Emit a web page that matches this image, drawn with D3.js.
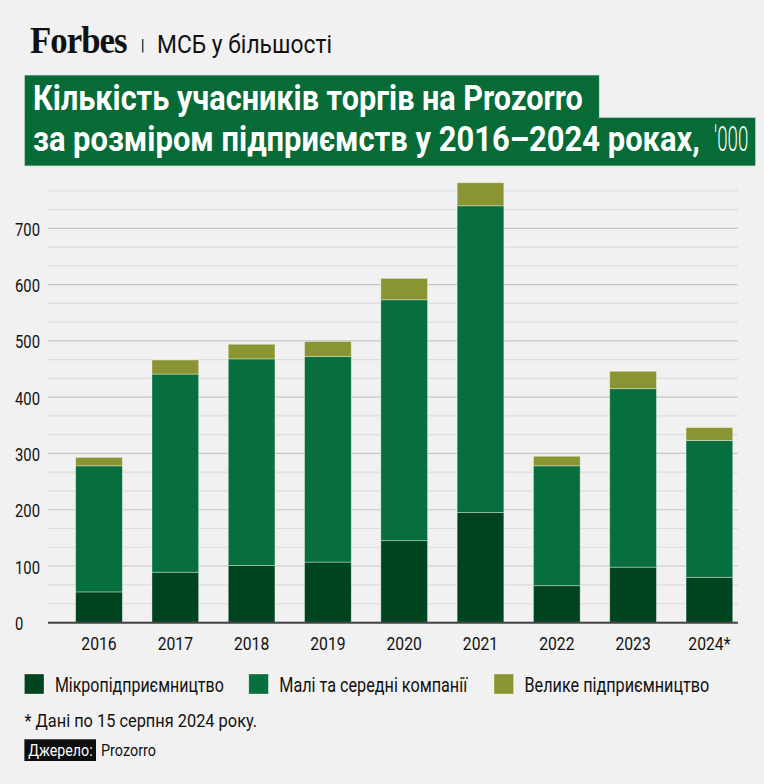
<!DOCTYPE html>
<html>
<head>
<meta charset="utf-8">
<script src="https://cdn.jsdelivr.net/npm/d3@7"></script>
<style>
  html, body { margin: 0; padding: 0; background: #f1f1f1; }
  svg { display: block; }
  text { font-family: Roboto, "Noto Sans", sans-serif; }
</style>
</head>
<body>
<svg id="chart" width="764" height="784"></svg>
<script>
// ---- data ----
const years = ["2016", "2017", "2018", "2019", "2020", "2021", "2022", "2023", "2024*"];
const micro = [54, 89, 101, 107, 145, 195, 65, 98, 80];
const sme   = [224, 352, 367, 365, 428, 545, 213, 317, 243];
const large = [15, 25, 26, 27, 38, 41, 17, 31, 23];
const seriesKeys = ["micro", "sme", "large"];
const seriesNames = ["Мікропідприємництво", "Малі та середні компанії", "Велике підприємництво"];
const yTickValues = [0, 100, 200, 300, 400, 500, 600, 700];
const minorStep = 100 / 3;
const titleLine1 = "Кількість учасників торгів на Prozorro";
const titleLine2 = "за розміром підприємств у 2016–2024 роках,";
const titleUnit = "'000";
const footnote = "* Дані по 15 серпня 2024 року.";
const sourceLabel = "Джерело:";
const sourceText = "Prozorro";

const colors = { micro: "#00431f", sme: "#076e3d", large: "#8b9433" };

const table = years.map((y, i) => ({ year: y, micro: micro[i], sme: sme[i], large: large[i] }));

const svg = d3.select("#chart");
svg.append("rect").attr("width", 764).attr("height", 784).attr("fill", "#f1f1f1");

// text fitted horizontally to a given width (condensed look)
function fitText(parent, str, x, y, w, attrs) {
  const g = parent.append("g").attr("transform", `translate(${x},${y})`);
  const t = g.append("text").text(str);
  Object.entries(attrs || {}).forEach(([k, v]) => {
    if (k === "font-family") t.style("font-family", v); else t.attr(k, v);
  });
  const len = t.node().getComputedTextLength();
  if (len > 0) g.attr("transform", `translate(${x},${y}) scale(${w / len},1)`);
  return t;
}

// ---- header ----
fitText(svg, "Forbes", 30, 53.3, 96.7, {
  "font-family": "'Liberation Serif', 'DejaVu Serif', serif",
  "font-weight": 700, "font-size": 37, "fill": "#111", "letter-spacing": -1
});
svg.append("line").attr("x1", 142.7).attr("x2", 142.7).attr("y1", 39).attr("y2", 52.5)
  .attr("stroke", "#444").attr("stroke-width", 1.5);
fitText(svg, "МСБ у більшості", 157, 53.3, 175, { "font-size": 26.5, "fill": "#111" });

// ---- title boxes ----
const titleGreen = "#066b37";
svg.append("rect").attr("x", 24.3).attr("y", 75).attr("width", 575).attr("height", 43)
  .attr("fill", titleGreen).attr("stroke", "#d6dfd9").attr("stroke-width", 0.8);
svg.append("rect").attr("x", 24.3).attr("y", 117.3).attr("width", 731.4).attr("height", 48.7)
  .attr("fill", titleGreen).attr("stroke", "#d6dfd9").attr("stroke-width", 0.8);
svg.append("rect").attr("x", 25).attr("y", 110).attr("width", 573.6).attr("height", 14)
  .attr("fill", titleGreen);
fitText(svg, titleLine1, 33, 110, 550, { "font-size": 35, "font-weight": 700, "fill": "#fff" });
fitText(svg, titleLine2, 33, 150.7, 667, { "font-size": 35, "font-weight": 700, "fill": "#fff" });
fitText(svg, titleUnit, 714, 150.7, 34.3, { "font-size": 35, "font-weight": 300, "fill": "#fff" });

// ---- scales ----
const plotLeft = 48, plotRight = 738;
const x = d3.scaleBand().domain(years).range([60.4, 748]).paddingInner(0.388).paddingOuter(0.2);
const y = d3.scaleLinear().domain([0, 700]).range([622.3, 228.3]);

// ---- grid ----
const gridVals = d3.range(0, 24).map(k => k * minorStep);
svg.append("g").selectAll("line").data(gridVals).join("line")
  .attr("x1", plotLeft).attr("x2", plotRight)
  .attr("y1", d => y(d)).attr("y2", d => y(d))
  .attr("stroke", (d, i) => i % 3 === 0 ? "#c6c6c6" : "#dddddd")
  .attr("stroke-width", 1.2);

// ---- y tick labels ----
svg.append("g").selectAll("g").data(yTickValues).join("g")
  .attr("transform", d => `translate(15,${y(d) + 1})scale(0.8,1)`)
  .append("text")
  .attr("dominant-baseline", "central")
  .attr("font-size", 18.5).attr("fill", "#111")
  .text(d => d);

// ---- bars ----
const stack = d3.stack().keys(seriesKeys);
const stacked = stack(table);
svg.append("g").selectAll("g").data(stacked).join("g")
  .attr("fill", d => colors[d.key])
  .selectAll("rect").data(d => d).join("rect")
  .attr("x", d => x(d.data.year))
  .attr("width", x.bandwidth())
  .attr("y", d => y(d[1]))
  .attr("height", d => y(d[0]) - y(d[1]))
  .attr("stroke", "rgba(255,255,255,0.45)")
  .attr("stroke-width", 0.8);

// ---- baseline ----
svg.append("line").attr("x1", plotLeft).attr("x2", plotRight)
  .attr("y1", y(0) + 0.5).attr("y2", y(0) + 0.5)
  .attr("stroke", "#444").attr("stroke-width", 2);

// ---- x labels ----
svg.append("g").selectAll("g").data(years).join("g")
  .attr("transform", d => `translate(${x(d) + x.bandwidth() / 2},649.5)scale(0.85,1)`)
  .append("text")
  .attr("text-anchor", "middle")
  .attr("font-size", 18.5).attr("fill", "#111")
  .text(d => d);

// ---- legend ----
const legendX = [24.4, 248.8, 494];
const legendW = [169, 188, 185];
const lg = svg.append("g");
seriesKeys.forEach((k, i) => {
  lg.append("rect")
    .attr("x", legendX[i]).attr("y", 674)
    .attr("width", 19.6).attr("height", 20)
    .attr("fill", colors[k]).attr("stroke", "rgba(255,255,255,0.4)").attr("stroke-width", 0.8);
  fitText(lg, seriesNames[i], legendX[i] + 30.5, 691.5, legendW[i], { "font-size": 20, "fill": "#111" });
});

// ---- footnote ----
fitText(svg, footnote, 24.4, 727.3, 233, { "font-size": 18.5, "fill": "#111" });

// ---- source ----
svg.append("rect").attr("x", 24.4).attr("y", 739.3).attr("width", 71.6).attr("height", 21.7)
  .attr("fill", "#0d0d0d");
fitText(svg, sourceLabel, 28.3, 756, 64.4, { "font-size": 17, "fill": "#fff" });
fitText(svg, sourceText, 101, 756, 55, { "font-size": 17, "fill": "#111" });
</script>
</body>
</html>
